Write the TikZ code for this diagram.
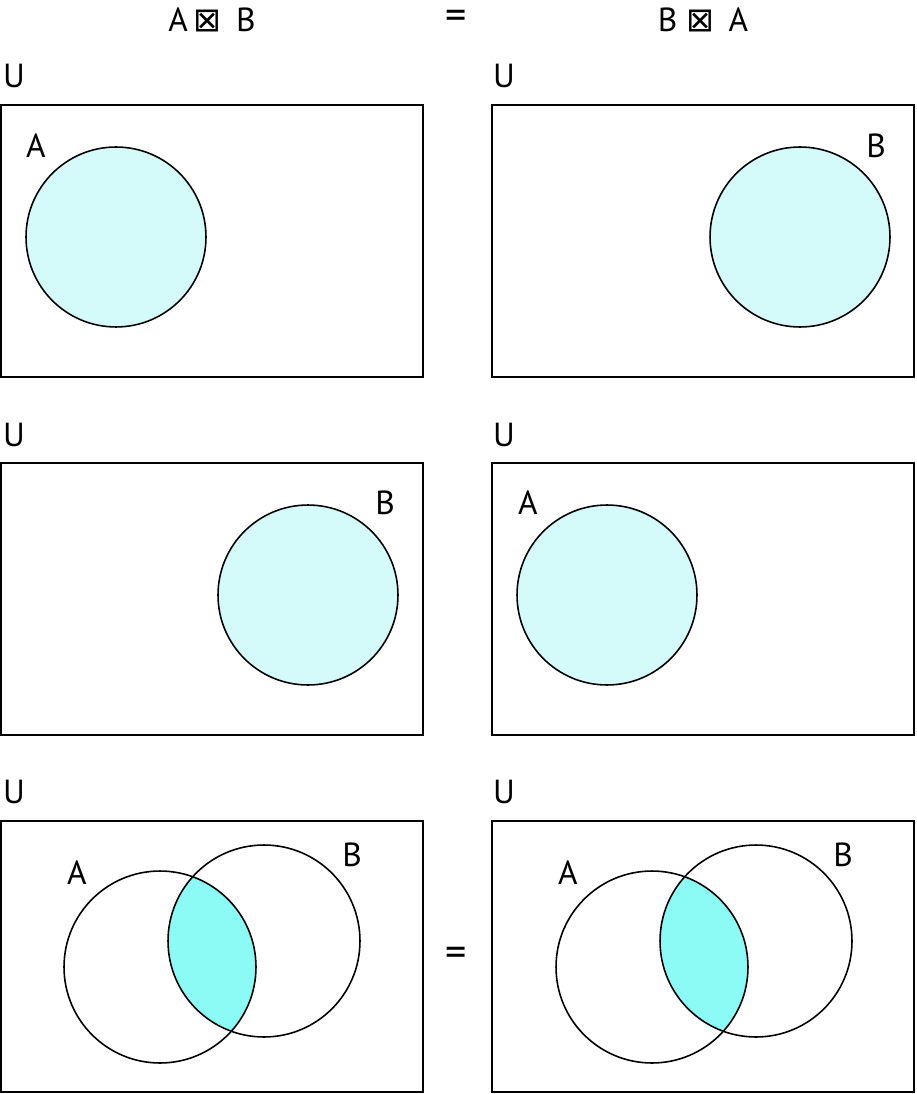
\documentclass[tikz,border=0pt]{standalone}
\usepackage{fontspec}
\setmainfont{PT Sans}
\newfontfamily\symbfont{DejaVu Sans}
\usetikzlibrary{calc}

\definecolor{setfill}{RGB}{212,250,250}
\definecolor{capfill}{RGB}{140,250,245}

\begin{document}
\begin{tikzpicture}[x=0.02cm, y=-0.02cm, line width=0.9pt,
    lbl/.style={font=\fontsize{19}{22}\selectfont, inner sep=0pt},
    eqsign/.style={font=\fontsize{24}{26}\selectfont, inner sep=0pt},
    universe/.style={draw=black}]
        \useasboundingbox (0, 0) rectangle (916, 1094);

        % 제목 줄
        \node[lbl] (lhs) at (212, 20) {A\,{\symbfont ⊠}\, B};
        \node[eqsign] (eqtop) at (456, 20) {=};
        \node[lbl] (rhs) at (703, 20) {B {\symbfont ⊠}\, A};

        % 전체 집합 U 상자들
        \draw[universe] (1, 105) rectangle (423, 377);
        \draw[universe] (492, 105) rectangle (914, 377);
        \draw[universe] (1, 463) rectangle (423, 735);
        \draw[universe] (492, 463) rectangle (914, 735);
        \draw[universe] (1, 821) rectangle (423, 1092);
        \draw[universe] (492, 821) rectangle (914, 1092);
        \node[lbl] (u1) at (14, 76) {U};
        \node[lbl] (u2) at (504, 76) {U};
        \node[lbl] (u3) at (14, 435) {U};
        \node[lbl] (u4) at (504, 435) {U};
        \node[lbl] (u5) at (14, 792) {U};
        \node[lbl] (u6) at (504, 792) {U};

        % 첫째 줄: A 와 B
        \draw[fill=setfill] (116, 237) circle[radius=1.8cm];
        \node[lbl] (a1) at (36, 146) {A};
        \draw[fill=setfill] (800, 237) circle[radius=1.8cm];
        \node[lbl] (b1) at (876, 146) {B};

        % 둘째 줄: B 와 A
        \draw[fill=setfill] (308, 595) circle[radius=1.8cm];
        \node[lbl] (b2) at (385, 503) {B};
        \draw[fill=setfill] (607, 595) circle[radius=1.8cm];
        \node[lbl] (a2) at (528, 503) {A};

        % 셋째 줄: 교집합
        \begin{scope}
            \clip (160, 967) circle[radius=1.92cm];
            \fill[capfill] (264, 941) circle[radius=1.92cm];
        \end{scope}
        \draw (160, 967) circle[radius=1.92cm];
        \draw (264, 941) circle[radius=1.92cm];
        \node[lbl] (a3) at (77, 873) {A};
        \node[lbl] (b3) at (352, 855) {B};

        \begin{scope}
            \clip (652, 967) circle[radius=1.92cm];
            \fill[capfill] (756, 941) circle[radius=1.92cm];
        \end{scope}
        \draw (652, 967) circle[radius=1.92cm];
        \draw (756, 941) circle[radius=1.92cm];
        \node[lbl] (a4) at (568, 873) {A};
        \node[lbl] (b4) at (843, 855) {B};

        \node[eqsign] (eqbot) at (456, 957) {=};
    \end{tikzpicture}
\end{document}
